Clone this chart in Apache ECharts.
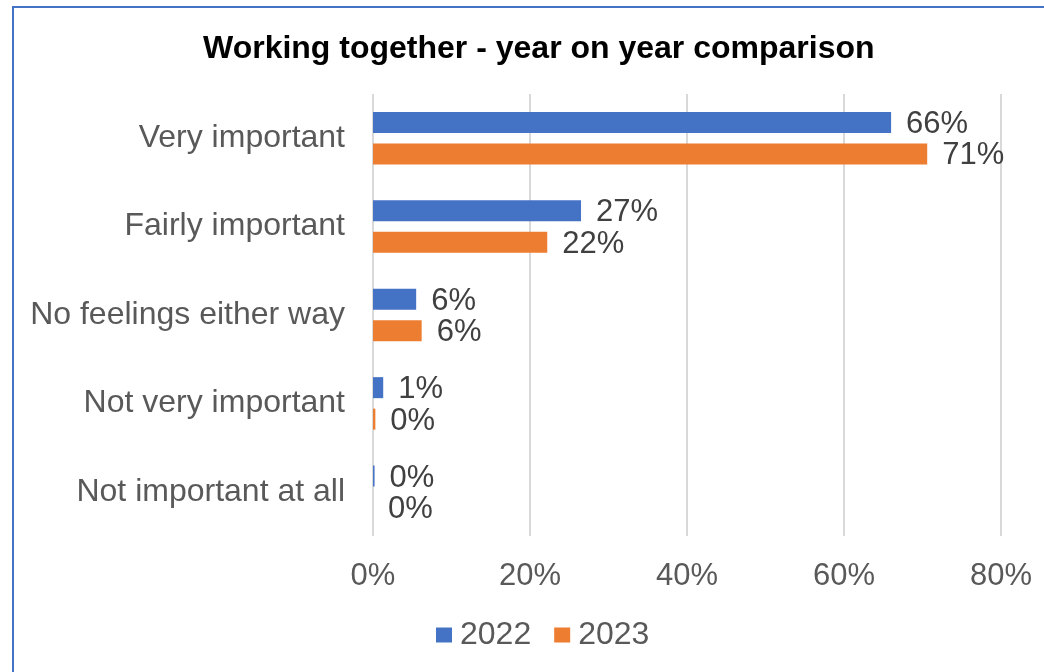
<!DOCTYPE html>
<html>
<head>
<meta charset="utf-8">
<script src="https://cdn.jsdelivr.net/npm/echarts@6/dist/echarts.min.js"></script>
<style>
  html, body { margin: 0; padding: 0; background: #fff; }
  #chart { width: 1044px; height: 672px; }
</style>
</head>
<body>
<div id="chart"></div>
<script>
const titleText = 'Working together - year on year comparison';
const categories = ['Very important', 'Fairly important', 'No feelings either way', 'Not very important', 'Not important at all'];
const seriesNames = ['2022', '2023'];
const values2022 = [66, 26.5, 5.5, 1.3, 0.2];
const values2023 = [70.6, 22.2, 6.2, 0.3, 0];
const xTicks = [0, 20, 40, 60, 80];

const blue = '#4472C4';
const orange = '#ED7D31';
const textGrey = '#595959';
const labelGrey = '#404040';
const font = "'Liberation Sans', Arial, sans-serif";

const chart = echarts.init(document.getElementById('chart'));

const labelStyle = {
  show: true,
  position: 'right',
  distance: 15,
  offset: [0, 2],
  color: labelGrey,
  fontFamily: font,
  fontSize: 31,
  formatter: p => Math.round(p.value) + '%'
};

chart.setOption({
  animation: false,
  backgroundColor: '#fff',
  title: {
    text: titleText,
    left: 198,
    top: 28,
    textStyle: { fontFamily: font, fontSize: 32, fontWeight: 'bold', color: '#000' }
  },
  legend: {
    data: seriesNames,
    top: 614,
    left: 431,
    itemWidth: 16,
    itemHeight: 15,
    itemGap: 23,
    icon: 'rect',
    textStyle: { fontFamily: font, fontSize: 32, color: textGrey, padding: [0, 0, 0, 3] }
  },
  grid: { left: 373, right: 43, top: 94, bottom: 136, containLabel: false },
  xAxis: {
    type: 'value',
    min: xTicks[0],
    max: xTicks[xTicks.length - 1],
    interval: 20,
    axisLine: { show: false },
    axisTick: { show: false },
    splitLine: { show: true, lineStyle: { color: '#D9D9D9', width: 2 } },
    axisLabel: { fontFamily: font, fontSize: 31, color: textGrey, margin: 25, formatter: v => v + '%' }
  },
  yAxis: {
    type: 'category',
    data: categories,
    inverse: true,
    axisLine: { show: false },
    axisTick: { show: false },
    axisLabel: { fontFamily: font, fontSize: 32, color: textGrey, margin: 28, padding: [8, 0, 0, 0] }
  },
  series: [
    { name: seriesNames[0], type: 'bar', data: values2022, barWidth: 21, barGap: '50%', itemStyle: { color: blue }, label: labelStyle },
    { name: seriesNames[1], type: 'bar', data: values2023, barWidth: 21, barGap: '50%', itemStyle: { color: orange }, label: labelStyle }
  ],
  graphic: [{
    type: 'rect',
    shape: { x: 13, y: 7, width: 1100, height: 700 },
    style: { fill: 'none', stroke: blue, lineWidth: 2 },
    silent: true
  }]
});
</script>
</body>
</html>
